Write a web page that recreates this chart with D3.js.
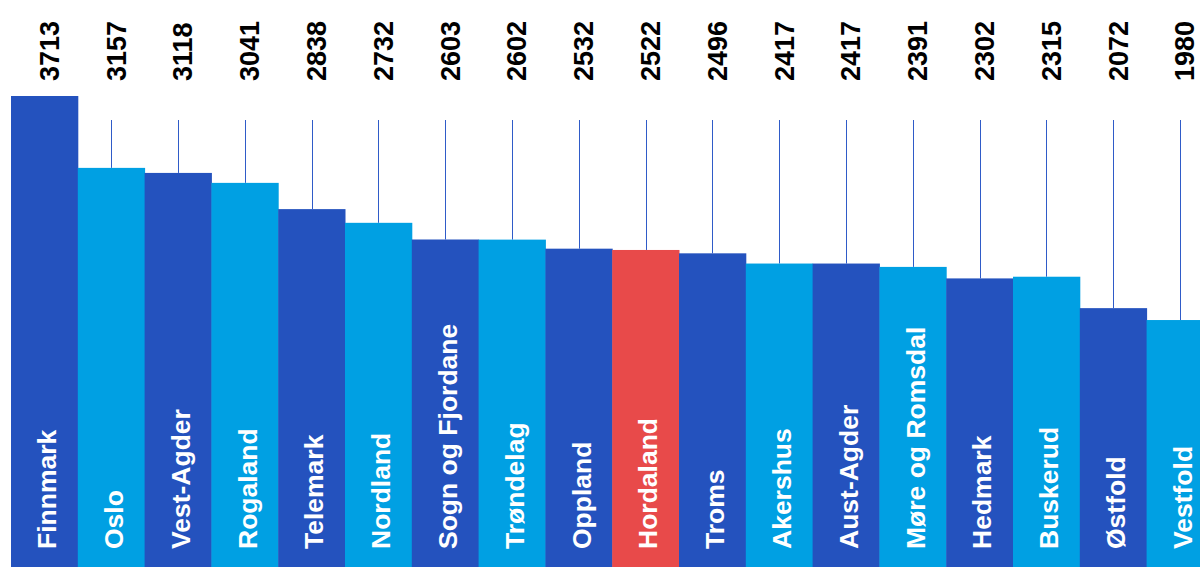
<!DOCTYPE html>
<html>
<head>
<meta charset="utf-8">
<script src="https://cdn.jsdelivr.net/npm/d3@7"></script>
<style>
  html, body { margin: 0; padding: 0; background: #fff; overflow: hidden; }
  .value-label { font-family: "Liberation Sans", Arial, sans-serif; font-weight: bold; font-size: 27px; fill: #000; }
  .cat-label { font-family: "Liberation Sans", Arial, sans-serif; font-weight: bold; font-size: 26.5px; fill: #fff; }
</style>
</head>
<body>
<div id="chart"></div>
<script>
const counties = ['Finnmark', 'Oslo', 'Vest-Agder', 'Rogaland', 'Telemark', 'Nordland',
  'Sogn og Fjordane', 'Trøndelag', 'Oppland', 'Hordaland', 'Troms', 'Akershus',
  'Aust-Agder', 'Møre og Romsdal', 'Hedmark', 'Buskerud', 'Østfold', 'Vestfold'];
const values = [3713, 3157, 3118, 3041, 2838, 2732, 2603, 2602, 2532, 2522, 2496, 2417,
  2417, 2391, 2302, 2315, 2072, 1980];
const highlight = 'Hordaland';

const width = 1200;
const height = 567;
const colors = { dark: '#2452be', light: '#00a0e3', highlight: '#e84a4a', line: '#2f5bc8' };

const data = counties.map((name, i) => ({ name, value: values[i], index: i }));

const xScale = d3.scaleBand()
  .domain(counties)
  .range([11, 11 + 66.8 * counties.length])
  .padding(0);

const yScale = d3.scaleLinear()
  .domain([0, d3.max(values)])
  .range([576, 96]);

const svg = d3.select('#chart').append('svg')
  .attr('width', width)
  .attr('height', height);

// leader lines from the value label down to the bar top
svg.append('g').selectAll('line')
  .data(data)
  .enter().append('line')
  .attr('x1', d => Math.round(xScale(d.name) + xScale.bandwidth() / 2) + 0.5)
  .attr('x2', d => Math.round(xScale(d.name) + xScale.bandwidth() / 2) + 0.5)
  .attr('y1', 120)
  .attr('y2', d => yScale(d.value))
  .attr('stroke', colors.line)
  .attr('stroke-width', 1);

svg.append('g').selectAll('rect')
  .data(data)
  .enter().append('rect')
  .attr('x', d => xScale(d.name))
  .attr('y', d => yScale(d.value))
  .attr('width', xScale.bandwidth() + 0.5)
  .attr('height', d => yScale(0) - yScale(d.value))
  .attr('fill', d => d.name === highlight ? colors.highlight : (d.index % 2 === 0 ? colors.dark : colors.light));

svg.append('g').selectAll('text')
  .data(data)
  .enter().append('text')
  .attr('class', 'value-label')
  .attr('transform', d => `translate(${xScale(d.name) + xScale.bandwidth() / 2 + 5},81) rotate(-90)`)
  .attr('dy', '0.35em')
  .text(d => d.value);

svg.append('g').selectAll('text')
  .data(data)
  .enter().append('text')
  .attr('class', 'cat-label')
  .attr('transform', d => `translate(${xScale(d.name) + xScale.bandwidth() / 2 + 2.5},549) rotate(-90)`)
  .attr('dy', '0.35em')
  .text(d => d.name);
</script>
</body>
</html>
